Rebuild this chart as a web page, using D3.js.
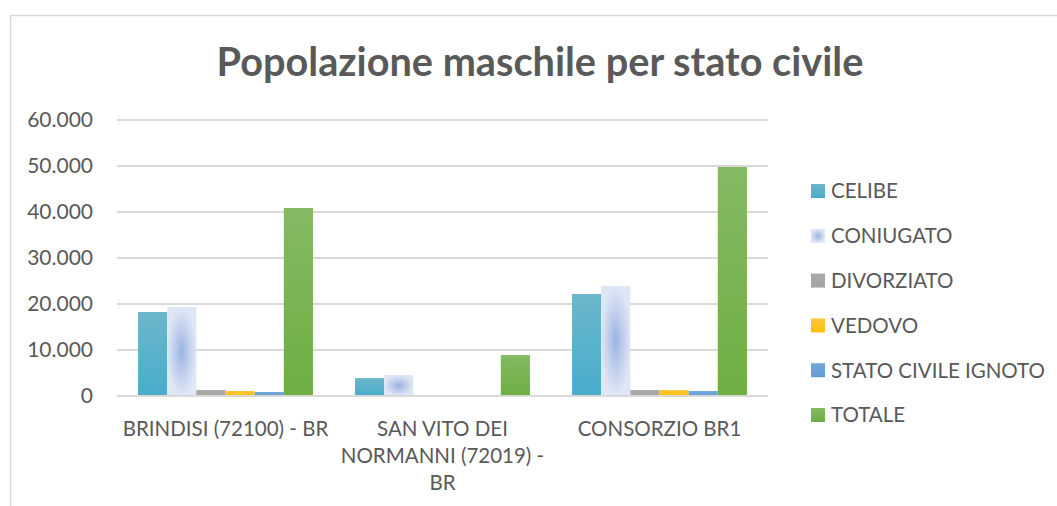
<!DOCTYPE html>
<html>
<head>
<meta charset="utf-8">
<script src="https://cdn.jsdelivr.net/npm/d3@7/dist/d3.min.js"></script>
<style>
  html, body { margin: 0; padding: 0; background: #fff; }
  svg { display: block; }
  text { font-family: Lato, "Open Sans", sans-serif; fill: #595959; }
</style>
</head>
<body>
<svg id="chart" width="1057" height="506"></svg>
<script>
// ---- Data ----
const categories = ["BRINDISI (72100) - BR", "SAN VITO DEI NORMANNI (72019) - BR", "CONSORZIO BR1"];
const categoryLabelLines = [["BRINDISI (72100) - BR"], ["SAN VITO DEI", "NORMANNI (72019) -", "BR"], ["CONSORZIO BR1"]];
const seriesNames = ["CELIBE", "CONIUGATO", "DIVORZIATO", "VEDOVO", "STATO CIVILE IGNOTO", "TOTALE"];
const celibe     = [18260, 3900, 22170];
const coniugato  = [19350, 4560, 23910];
const divorziato = [1300, 60, 1300];
const vedovo     = [1090, 50, 1300];
const ignoto     = [870, 30, 1090];
const totale     = [40870, 8900, 49780];
const yTicks = [0, 10000, 20000, 30000, 40000, 50000, 60000];
const title = "Popolazione maschile per stato civile";

const seriesValues = [celibe, coniugato, divorziato, vedovo, ignoto, totale];
const fills = ["url(#gCelibe)", "url(#gConiugato)", "url(#gDivorziato)", "url(#gVedovo)", "url(#gIgnoto)", "url(#gTotale)"];

const svg = d3.select("#chart");
const defs = svg.append("defs");
function linGrad(id, top, bottom) {
  const g = defs.append("linearGradient").attr("id", id).attr("x1", 0).attr("y1", 0).attr("x2", 0).attr("y2", 1);
  g.append("stop").attr("offset", "0%").attr("stop-color", top);
  g.append("stop").attr("offset", "100%").attr("stop-color", bottom);
}
linGrad("gCelibe", "#6cb6cb", "#48adcb");
linGrad("gDivorziato", "#a9a9a9", "#a5a5a5");
linGrad("gVedovo", "#ffc740", "#ffc000");
linGrad("gIgnoto", "#74a8db", "#5f9dd6");
linGrad("gTotale", "#84b962", "#6daf42");
const rg = defs.append("radialGradient").attr("id", "gConiugato").attr("cx", 0.5).attr("cy", 0.5).attr("r", 0.5);
rg.append("stop").attr("offset", "0%").attr("stop-color", "#9bb2e3");
rg.append("stop").attr("offset", "45%").attr("stop-color", "#bccbec");
rg.append("stop").attr("offset", "100%").attr("stop-color", "#dfe7f5");

// Chart border
svg.append("rect").attr("x", 10.5).attr("y", 15.5).attr("width", 1100).attr("height", 600)
  .attr("fill", "none").attr("stroke", "#d9d9d9").attr("stroke-width", 1.5);

// Scales
const plot = { left: 117, right: 768, top: 120, bottom: 396 };
const x0 = d3.scaleBand().domain(categories).range([plot.left, plot.right]).paddingInner(0).paddingOuter(0);
const groupPad = x0.bandwidth() * 0.097;
const x1 = d3.scaleBand().domain(seriesNames).range([groupPad, x0.bandwidth() - groupPad]).padding(0);
const y = d3.scaleLinear().domain([0, 60000]).range([plot.bottom, plot.top]);

// Gridlines
svg.append("g").selectAll("line").data(yTicks).join("line")
  .attr("x1", plot.left).attr("x2", plot.right)
  .attr("y1", d => y(d)).attr("y2", d => y(d))
  .attr("stroke", "#d9d9d9").attr("stroke-width", 1.8);

// Y axis labels
const fmt = d => d3.format(",")(d).replace(/,/g, ".");
const yAxis = d3.axisLeft(y).tickValues(yTicks).tickFormat(fmt).tickSize(0).tickPadding(0);
const yg = svg.append("g").attr("transform", `translate(93,0)`).call(yAxis);
yg.select(".domain").remove();
yg.selectAll("text").attr("font-family", "Lato, sans-serif").attr("font-size", 21).attr("fill", "#595959");

// Bars
const groups = svg.append("g").selectAll("g").data(categories).join("g")
  .attr("transform", d => `translate(${x0(d)},0)`);
groups.selectAll("rect").data((d, i) => seriesNames.map((s, j) => ({ s, v: seriesValues[j][i], j })))
  .join("rect")
  .attr("x", d => x1(d.s))
  .attr("width", x1.bandwidth())
  .attr("y", d => y(d.v))
  .attr("height", d => y(0) - y(d.v))
  .attr("fill", d => fills[d.j]);

// Zero line on top
svg.append("line").attr("x1", plot.left).attr("x2", plot.right).attr("y1", y(0)).attr("y2", y(0))
  .attr("stroke", "#d9d9d9").attr("stroke-width", 1.8);

// Category labels
const xg = svg.append("g");
categories.forEach((c, i) => {
  const t = xg.append("text").attr("text-anchor", "middle").attr("font-size", 20.5)
    .attr("x", x0(c) + x0.bandwidth() / 2).attr("y", 436);
  categoryLabelLines[i].forEach((ln, k) => {
    t.append("tspan").attr("x", x0(c) + x0.bandwidth() / 2).attr("dy", k === 0 ? 0 : 27).text(ln);
  });
});

// Title
const tt = svg.append("text").attr("x", 540).attr("y", 76).attr("text-anchor", "middle")
  .attr("font-weight", "bold").attr("font-size", 38).attr("fill", "#595959").text(title);
const tw = tt.node().getComputedTextLength();
tt.attr("font-size", 38 * 647 / tw);

// Legend
const legend = svg.append("g").attr("transform", "translate(811,0)");
const legendY = d3.scalePoint().domain(seriesNames).range([191, 415]);
const li = legend.selectAll("g").data(seriesNames).join("g")
  .attr("transform", d => `translate(0,${legendY(d)})`);
li.append("rect").attr("x", 0).attr("y", -7).attr("width", 14).attr("height", 14)
  .attr("fill", (d, i) => fills[i]);
li.append("text").attr("x", 20).attr("dy", "0.36em").attr("font-size", 20.5).text(d => d);
</script>
</body>
</html>
